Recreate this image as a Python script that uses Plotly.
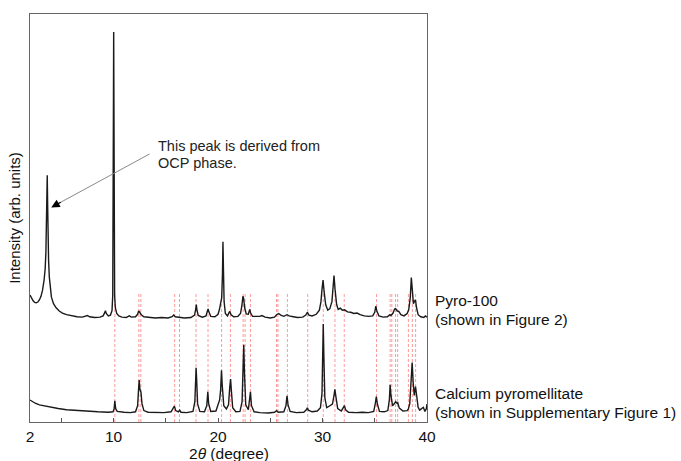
import plotly.graph_objects as go

# ---------------- data ----------------
pyro_2theta = [2.00, 2.15, 2.30, 2.45, 2.60, 2.75, 2.90, 3.05, 3.20, 3.35, 3.45, 3.52, 3.57, 3.61, 3.65,
               3.69, 3.73, 3.78, 3.85, 3.95, 4.05, 4.25, 4.50, 4.80, 5.10, 5.50, 6.00, 6.50, 7.00, 7.30,
               7.50, 7.70, 8.20, 8.70, 9.00, 9.15, 9.22, 9.30, 9.50, 9.70, 9.85, 9.92, 9.96, 9.99, 10.01,
               10.03, 10.06, 10.10, 10.17, 10.30, 10.50, 10.80, 11.20, 11.50, 11.70, 12.10, 12.30, 12.40,
               12.50, 12.65, 12.90, 13.40, 14.00, 14.60, 15.20, 15.60, 15.75, 15.90, 16.30, 16.80, 17.40,
               17.75, 17.85, 17.92, 17.98, 18.10, 18.50, 18.85, 18.98, 19.05, 19.12, 19.30, 19.70, 20.00,
               20.15, 20.25, 20.35, 20.42, 20.47, 20.52, 20.58, 20.70, 20.90, 21.05, 21.12, 21.25, 21.50,
               21.90, 22.15, 22.28, 22.38, 22.45, 22.55, 22.70, 22.90, 23.03, 23.12, 23.30, 23.70, 24.00,
               24.20, 24.50, 25.00, 25.40, 25.60, 25.80, 26.00, 26.30, 26.60, 26.80, 27.20, 27.60, 28.10,
               28.40, 28.55, 28.70, 29.00, 29.40, 29.70, 29.85, 29.95, 30.05, 30.15, 30.30, 30.50, 30.70,
               30.90, 31.00, 31.10, 31.20, 31.35, 31.50, 31.70, 31.90, 32.10, 32.40, 32.70, 33.00, 33.30,
               33.60, 34.00, 34.40, 34.80, 35.00, 35.10, 35.20, 35.40, 35.80, 36.20, 36.45, 36.55, 36.75,
               36.90, 37.00, 37.15, 37.30, 37.50, 37.80, 38.10, 38.25, 38.40, 38.50, 38.60, 38.70, 38.80,
               38.90, 39.00, 39.15, 39.40, 39.70, 39.85, 40.00]
pyro_intensity = [31.1, 30.3, 29.7, 29.3, 29.2, 29.4, 29.9, 30.8, 32.3, 34.8, 37.5, 41.5, 47.0, 54.0, 60.5,
                  53.0, 45.0, 39.5, 35.5, 32.5, 30.6, 29.0, 28.0, 27.2, 26.7, 26.3, 26.0, 25.8, 25.7, 25.9,
                  26.1, 25.8, 25.6, 25.7, 26.0, 26.8, 27.3, 26.6, 26.0, 26.2, 27.3, 31.0, 45.0, 80.0, 95.6,
                  80.0, 45.0, 31.0, 28.0, 26.6, 26.0, 25.7, 25.6, 26.0, 25.7, 25.8, 26.4, 27.2,
                  26.9, 26.3, 25.8, 25.6, 25.5, 25.6, 25.5, 25.8, 26.2, 25.8, 25.7, 25.5, 25.6,
                  26.2, 27.5, 28.8, 27.5, 26.1, 25.7, 26.0, 27.2, 27.7, 27.0, 25.9, 25.8, 26.4,
                  27.8, 29.0, 30.5, 36.0, 44.2, 37.0, 29.5, 26.6, 26.0, 26.8, 27.1, 26.3, 25.8,
                  25.9, 26.6, 28.5, 30.8, 30.3, 28.0, 26.5, 26.4, 27.6, 26.7, 25.9, 25.8, 25.9,
                  26.1, 25.7, 25.5, 25.7, 26.3, 26.6, 26.2, 25.9, 26.3, 26.0, 25.8, 25.6, 25.7,
                  26.2, 26.9, 26.2, 26.0, 26.4, 27.4, 29.5, 32.5, 34.8, 32.0, 28.8, 27.4, 27.8,
                  29.5, 33.0, 35.9, 32.5, 28.8, 27.6, 27.9, 27.4, 27.5, 27.0, 26.9, 26.6, 26.7,
                  26.3, 26.0, 25.9, 26.0, 26.9, 28.4, 27.2, 26.0, 25.7, 25.8, 26.3, 26.1, 26.7,
                  27.7, 27.8, 27.2, 27.1, 26.3, 26.0, 26.6, 27.5, 30.5, 35.4, 32.0, 29.0, 29.6,
                  29.9, 28.0, 26.3, 25.8, 25.6, 26.0, 25.7]

capm_2theta = [2.00, 2.20, 2.50, 2.90, 3.40, 4.00, 4.70, 5.50, 6.50, 7.50, 8.50, 9.50, 9.95, 10.05, 10.12,
               10.20, 10.35, 11.00, 11.60, 12.10, 12.30, 12.38, 12.45, 12.52, 12.62, 12.72, 12.90, 13.30,
               14.00, 14.80, 15.50, 15.70, 15.82, 15.95, 16.20, 16.33, 16.45, 17.00, 17.60, 17.78, 17.86,
               17.90, 17.95, 18.04, 18.25, 18.70, 18.92, 19.02, 19.10, 19.30, 19.80, 20.05, 20.15, 20.25,
               20.33, 20.40, 20.55, 20.80, 21.00, 21.12, 21.20, 21.28, 21.40, 21.70, 22.10, 22.30, 22.40,
               22.46, 22.53, 22.65, 22.90, 23.03, 23.10, 23.20, 23.45, 24.00, 24.80, 25.40, 25.60, 25.75,
               26.30, 26.50, 26.60, 26.70, 26.90, 27.50, 28.20, 28.45, 28.55, 28.65, 29.00, 29.50, 29.80,
               29.95, 30.02, 30.07, 30.13, 30.22, 30.40, 30.65, 30.78, 30.95, 31.10, 31.18, 31.28, 31.45,
               31.80, 32.00, 32.10, 32.20, 32.50, 33.20, 33.80, 34.40, 34.90, 35.05, 35.15, 35.25, 35.45,
               35.90, 36.25, 36.40, 36.47, 36.55, 36.70, 36.90, 37.00, 37.12, 37.20, 37.35, 37.70, 38.10,
               38.22, 38.35, 38.50, 38.58, 38.68, 38.78, 38.90, 39.00, 39.15, 39.30, 39.50, 39.65, 39.80,
               39.93, 40.00]
capm_intensity = [5.4, 5.0, 4.6, 4.2, 3.9, 3.6, 3.3, 3.0, 2.8, 2.6, 2.5, 2.4, 2.5, 3.2, 5.2,
                  3.3, 2.6, 2.4, 2.3, 2.5, 4.0, 7.5, 10.3, 8.0, 7.3, 4.5, 2.8, 2.4,
                  2.3, 2.3, 2.5, 3.2, 3.9, 2.8, 2.5, 2.9, 2.4, 2.3, 2.6, 5.0, 10.5,
                  13.3, 10.5, 4.5, 2.6, 2.5, 4.0, 7.4, 4.5, 2.6, 2.7, 4.3, 5.4, 8.0,
                  12.7, 9.0, 4.0, 3.2, 4.2, 8.5, 10.5, 7.5, 3.5, 2.5, 2.6, 5.0, 13.0,
                  18.9, 12.0, 4.2, 3.0, 6.0, 7.4, 4.0, 2.5, 2.3, 2.2, 2.4, 2.8, 2.4,
                  2.5, 4.0, 6.4, 4.2, 2.6, 2.3, 2.4, 3.0, 3.5, 2.9, 2.5, 2.7, 3.5,
                  7.0, 15.0, 24.0, 16.0, 6.0, 3.5, 3.9, 4.3, 4.4, 6.5, 8.0, 6.2, 3.3,
                  2.7, 3.4, 4.0, 3.0, 2.4, 2.3, 2.4, 2.3, 2.6, 4.5, 6.2, 4.4, 2.6,
                  2.5, 2.8, 5.5, 9.1, 6.5, 4.0, 4.6, 5.0, 4.6, 4.7, 3.4, 2.7, 2.8,
                  3.2, 4.5, 10.0, 14.6, 9.5, 6.5, 8.7, 7.0, 3.6, 2.9, 3.3, 3.6, 2.6,
                  3.2, 4.4]

ref_lines_2theta = [10.12, 12.42, 12.61, 15.85, 16.31, 17.89, 19.04, 20.34, 21.18, 22.40, 22.59, 23.10,
                    25.60, 25.73, 26.64, 28.58, 30.07, 31.19, 32.08, 35.17, 36.47, 36.63, 36.99, 37.19,
                    38.22, 38.60, 38.91]
ref_line_top = 31.6

x_tick_vals = [2, 5, 10, 15, 20, 25, 30, 35, 40]
x_tick_text = ["2", "", "10", "", "20", "", "30", "", "40"]

# ---------------- figure ----------------
FONT = "Liberation Sans, Arial, sans-serif"
fig = go.Figure()

lx, ly = [], []
for p in ref_lines_2theta:
    lx += [p, p, None]
    ly += [0, ref_line_top, None]
fig.add_trace(go.Scatter(x=lx, y=ly, mode="lines",
                         line=dict(color="rgba(255,110,110,0.7)", width=1, dash="3px,2px"),
                         hoverinfo="skip", showlegend=False))

fig.add_trace(go.Scatter(x=capm_2theta, y=capm_intensity, mode="lines",
                         line=dict(color="#1a1a1a", width=1.4), showlegend=False))
fig.add_trace(go.Scatter(x=pyro_2theta, y=pyro_intensity, mode="lines",
                         line=dict(color="#1a1a1a", width=1.4), showlegend=False))

fig.update_layout(
    width=681, height=461,
    margin=dict(l=30, r=254, t=14, b=39),
    paper_bgcolor="white", plot_bgcolor="white",
    font=dict(family=FONT, size=15, color="#111"),
    showlegend=False,
)
fig.update_xaxes(range=[2, 40], tickvals=x_tick_vals, ticktext=x_tick_text,
                 ticks="inside", ticklen=4, tickcolor="#555", tickwidth=1,
                 showline=True, linecolor="#666", linewidth=1.3, mirror=True,
                 showgrid=False, zeroline=False,
                 tickfont=dict(family=FONT, size=15.5, color="#111"))
fig.update_yaxes(range=[0, 100], showticklabels=False, ticks="",
                 showline=True, linecolor="#666", linewidth=1.3, mirror=True,
                 showgrid=False, zeroline=False,
                 title=dict(text="Intensity (arb. units)", standoff=4,
                            font=dict(family=FONT, size=15, color="#111")))

# axis title for x as annotation
fig.add_annotation(text="2<i>θ</i> (degree)", xref="paper", yref="paper", x=0.5, y=-0.076,
                   xanchor="center", yanchor="middle", showarrow=False,
                   font=dict(family=FONT, size=15.5, color="#111"))

# right-hand labels
for txt, yv in [("Pyro-100", 29.9), ("(shown in Figure 2)", 25.2),
                ("Calcium pyromellitate", 7.03), ("(shown in Supplementary Figure 1)", 2.28)]:
    fig.add_annotation(text=txt, xref="paper", yref="y", x=1.0151, y=yv,
                       xanchor="left", yanchor="middle", showarrow=False,
                       font=dict(family=FONT, size=15.5, color="#111"))

# peak note
for txt, yv in [("This peak is derived from", 67.7), ("OCP phase.", 63.4)]:
    fig.add_annotation(text=txt, xref="x", yref="y", x=14.1, y=yv,
                       xanchor="left", yanchor="middle", showarrow=False,
                       font=dict(family=FONT, size=14.5, color="#222"))

# arrow: gray shaft + black head
fig.add_shape(type="line", xref="x", yref="y", x0=13.45, y0=65.7, x1=4.9, y1=53.8,
              line=dict(color="#8a8a8a", width=1))
fig.add_annotation(text="", xref="x", yref="y", x=4.03, y=52.6, ax=11, ay=-6,
                   showarrow=True, arrowhead=2, arrowsize=1.3, arrowwidth=1.3,
                   arrowcolor="#000")

fig.write_html("out.html", config={"displayModeBar": False},
               post_script="document.body.style.margin='0';document.body.style.padding='0';")
